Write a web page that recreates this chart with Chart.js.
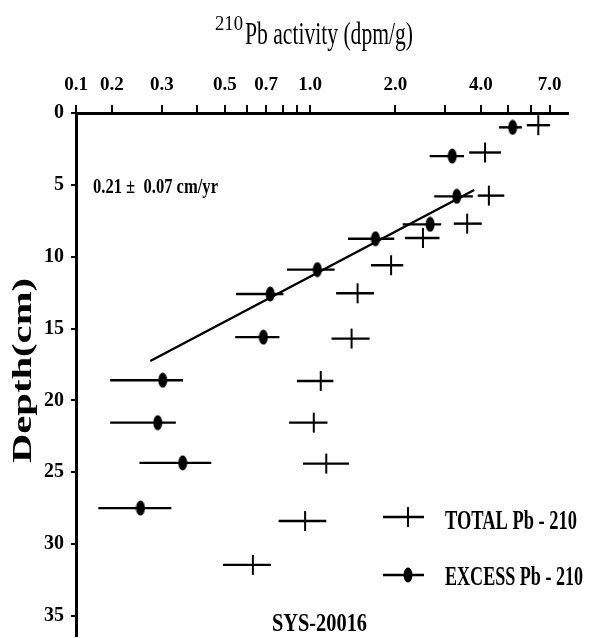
<!DOCTYPE html>
<html>
<head>
<meta charset="UTF-8">
<title>210Pb activity - SYS-20016</title>
<script src="https://cdn.jsdelivr.net/npm/chart.js"></script>
<style>
    html, body { margin: 0; background: #fff; overflow: hidden; }
    #wrap { width: 591px; height: 638px; position: relative; }
</style>
</head>
<body>
<div id="wrap"><canvas id="chart"></canvas></div>
<script>
    // excess Pb-210 (filled ellipse marker)
    const excessDepth = [1.0, 3.0, 5.8, 7.75, 8.75, 10.9, 12.6, 15.6, 18.6, 21.55, 24.35, 27.5];
    const excessValue = [5.18, 3.17, 3.29, 2.65, 1.70, 1.06, 0.723, 0.684, 0.302, 0.290, 0.355, 0.252];
    const excessLow   = [4.64, 2.64, 2.74, 2.12, 1.36, 0.828, 0.548, 0.544, 0.197, 0.197, 0.250, 0.179];
    const excessHigh  = [5.58, 3.49, 3.75, 2.90, 1.98, 1.22, 0.805, 0.779, 0.356, 0.336, 0.448, 0.324];

    // total Pb-210 (cross marker)
    const totalDepth = [0.85, 2.75, 5.75, 7.7, 8.7, 10.6, 12.55, 15.7, 18.65, 21.55, 24.4, 28.4, 31.45];
    const totalValue = [6.38, 4.14, 4.27, 3.58, 2.50, 1.93, 1.47, 1.40, 1.09, 1.03, 1.14, 0.96, 0.628];
    const totalLow   = [5.81, 3.64, 3.90, 3.21, 2.16, 1.64, 1.235, 1.19, 0.898, 0.843, 0.943, 0.774, 0.492];
    const totalHigh  = [7.01, 4.71, 4.84, 4.03, 2.86, 2.13, 1.68, 1.62, 1.208, 1.151, 1.37, 1.14, 0.727];

    // fitted line (sedimentation rate)
    const fitValue = [0.273, 3.79];
    const fitDepth = [17.26, 5.36];

    // axes
    const xMin = 0.1493, xMax = 8.12;
    const xTickValues = [0.1493, 0.2, 0.3, 0.4, 0.5, 0.6, 0.7, 0.8, 0.9, 1, 2, 3, 4, 5, 6, 7];
    const xTickLabels = ['0.1', '0.2', '0.3', '', '0.5', '', '0.7', '', '', '1.0', '2.0', '', '4.0', '', '', '7.0'];
    const yMin = 0, yMax = 36.4;
    const yTickValues = [0, 5, 10, 15, 20, 25, 30, 35];

    const SERIF = "'Liberation Serif', 'Times New Roman', serif";
    const PLOT_BOTTOM = 636;

    // ellipse marker for excess points
    function makeEllipse(w, h) {
        const c = document.createElement('canvas');
        c.width = w; c.height = h;
        const g = c.getContext('2d');
        g.fillStyle = '#000';
        g.beginPath();
        g.ellipse(w / 2, h / 2, w / 2 - 0.5, h / 2 - 0.5, 0, 0, Math.PI * 2);
        g.fill();
        return c;
    }
    const ellipse = makeEllipse(10, 16);

    // text squeezed/stretched to a given width
    function drawFit(ctx, text, x, y, width, font, rotate) {
        ctx.save();
        ctx.font = font;
        ctx.fillStyle = '#000';
        ctx.textAlign = 'left';
        ctx.textBaseline = rotate ? 'middle' : 'alphabetic';
        const w = ctx.measureText(text).width;
        ctx.translate(x, y);
        if (rotate) ctx.rotate(-Math.PI / 2);
        ctx.scale(width / w, 1);
        ctx.fillText(text, 0, 0);
        ctx.restore();
    }

    const errorBars = {
        id: 'errorBars',
        beforeDatasetsDraw(chart) {
            const ctx = chart.ctx, xs = chart.scales.x, ys = chart.scales.y;
            ctx.save();
            ctx.strokeStyle = '#000';
            ctx.lineWidth = 2.4;
            ctx.lineCap = 'butt';
            const draw = (depth, lo, hi) => {
                for (let i = 0; i < depth.length; i++) {
                    const y = ys.getPixelForValue(depth[i]);
                    ctx.beginPath();
                    ctx.moveTo(xs.getPixelForValue(lo[i]), y);
                    ctx.lineTo(xs.getPixelForValue(hi[i]), y);
                    ctx.stroke();
                }
            };
            draw(totalDepth, totalLow, totalHigh);
            draw(excessDepth, excessLow, excessHigh);
            ctx.restore();
        }
    };

    const texts = {
        id: 'texts',
        afterDraw(chart) {
            const ctx = chart.ctx;
            // axis title
            drawFit(ctx, '210', 215, 30, 28, '20px ' + SERIF);
            drawFit(ctx, 'Pb activity (dpm/g)', 245, 44, 168, '31px ' + SERIF);
            drawFit(ctx, 'Depth(cm)', 24, 463, 185, 'bold 27px ' + SERIF, true);
            // rate
            drawFit(ctx, '0.21 \u00b1  0.07 cm/yr', 93, 193, 125, 'bold 20px ' + SERIF);
            // legend
            ctx.save();
            ctx.strokeStyle = '#000';
            ctx.lineWidth = 2.4;
            ctx.beginPath();
            ctx.moveTo(383, 517); ctx.lineTo(424, 517);
            ctx.moveTo(383, 575); ctx.lineTo(424, 575);
            ctx.stroke();
            ctx.lineWidth = 2;
            ctx.beginPath();
            ctx.moveTo(408, 507); ctx.lineTo(408, 527);
            ctx.stroke();
            ctx.drawImage(ellipse, 403, 567);
            ctx.restore();
            drawFit(ctx, 'TOTAL Pb - 210', 445, 529, 132, 'bold 27px ' + SERIF);
            drawFit(ctx, 'EXCESS Pb - 210', 445, 585, 138, 'bold 27px ' + SERIF);
            // core name
            drawFit(ctx, 'SYS-20016', 272, 631, 95, 'bold 26px ' + SERIF);
        }
    };

    const xy = (xs, ys) => xs.map((v, i) => ({x: v, y: ys[i]}));

    const chart = new Chart(document.getElementById('chart'), {
        type: 'scatter',
        data: {
            datasets: [
                {
                    label: 'TOTAL Pb - 210',
                    data: xy(totalValue, totalDepth),
                    pointStyle: 'line',
                    rotation: 90,
                    radius: 10,
                    borderWidth: 2,
                    borderColor: '#000',
                    backgroundColor: '#000'
                },
                {
                    label: 'EXCESS Pb - 210',
                    data: xy(excessValue, excessDepth),
                    pointStyle: ellipse,
                    radius: 8,
                    borderColor: '#000',
                    backgroundColor: '#000'
                },
                {
                    label: 'fit',
                    data: xy(fitValue, fitDepth),
                    showLine: true,
                    pointRadius: 0,
                    borderWidth: 2.5,
                    borderColor: '#000'
                }
            ]
        },
        options: {
            responsive: true,
            maintainAspectRatio: false,
            animation: false,
            layout: {padding: {left: 0, right: 23, top: 0, bottom: 0}},
            plugins: {
                legend: {display: false},
                tooltip: {enabled: false}
            },
            scales: {
                x: {
                    type: 'logarithmic',
                    position: 'top',
                    min: xMin,
                    max: xMax,
                    afterBuildTicks: s => { s.ticks = xTickValues.map(v => ({value: v})); },
                    afterFit: s => { s.height = 113; },
                    grid: {drawOnChartArea: false, color: '#000', lineWidth: 2, tickLength: 8},
                    border: {display: true, color: '#000', width: 3},
                    ticks: {
                        autoSkip: false,
                        maxRotation: 0,
                        padding: 9,
                        color: '#000',
                        font: {family: SERIF, size: 19, weight: 'bold'},
                        callback: (v, i) => xTickLabels[i]
                    }
                },
                y: {
                    type: 'linear',
                    reverse: true,
                    min: yMin,
                    max: yMax,
                    afterBuildTicks: s => { s.ticks = yTickValues.map(v => ({value: v})); },
                    afterFit: s => { s.width = 76; s.paddingTop = 0; s.paddingBottom = 0; },
                    grid: {drawOnChartArea: false, color: '#000', lineWidth: 2, tickLength: 5},
                    border: {display: true, color: '#000', width: 3},
                    ticks: {
                        padding: 7,
                        color: '#000',
                        font: {family: SERIF, size: 20, weight: 'bold'},
                        callback: v => String(v)
                    }
                }
            }
        },
        plugins: [errorBars, texts]
    });

    // the layout keeps a little room under the plot; grow the canvas so the
    // depth axis reaches the bottom edge of the window like in the figure
    const gap = PLOT_BOTTOM - chart.chartArea.bottom;
    if (gap > 0) {
        document.getElementById('wrap').style.height = (638 + gap) + 'px';
        chart.resize(591, 638 + gap);
    }
</script>
</body>
</html>
